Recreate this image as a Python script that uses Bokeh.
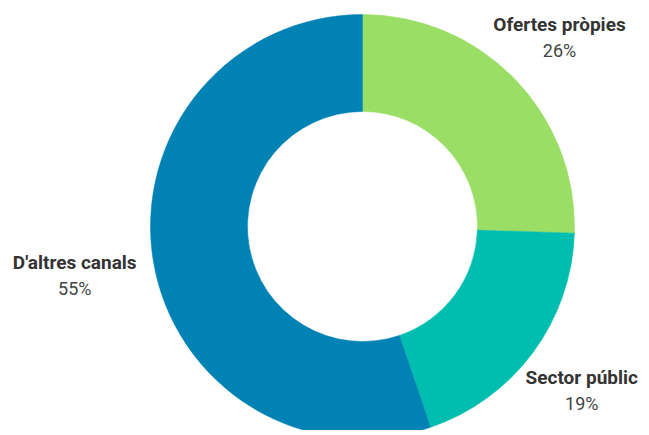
import math
from bokeh.plotting import figure
from bokeh.models import Range1d, ColumnDataSource
from bokeh.core.properties import value
from bokeh.embed import file_html
from bokeh.resources import INLINE

# ---- data ----
categories = ["Ofertes pròpies", "Sector públic", "D'altres canals"]
shares = [25.5, 19.3, 55.2]
pct_labels = ["26%", "19%", "55%"]
colors = ["#9BDE66", "#00BEAF", "#0082B4"]

W, H = 641, 430
CX, CY = 362, H - 226
R_OUT, R_IN = 212, 115

p = figure(width=W, height=H, output_backend="svg", toolbar_location=None,
           x_range=Range1d(0, W), y_range=Range1d(0, H), min_border=0)
p.axis.visible = False
p.grid.visible = False
p.outline_line_color = None
p.background_fill_color = "white"

total = sum(shares)
starts, ends, lx, ly_name, ly_pct = [], [], [], [], []
cum = 0.0
for name, v in zip(categories, shares):
    a0 = cum / total * 2 * math.pi
    a1 = (cum + v) / total * 2 * math.pi
    starts.append(math.pi / 2 - a0)
    ends.append(math.pi / 2 - a1)
    mid = (a0 + a1) / 2
    s, c = math.sin(mid), math.cos(mid)
    w = len(name) * 8.6
    r = 228 + w / 2 * abs(s)
    cx = CX + r * s
    cy = CY + r * c
    lx.append(cx)
    ly_name.append(cy + 11)
    ly_pct.append(cy - 15)
    cum += v

src = ColumnDataSource(dict(start=starts, end=ends, color=colors,
                            lx=lx, lyn=ly_name, lyp=ly_pct,
                            name=categories, pct=pct_labels))

p.annular_wedge(x=CX, y=CY, inner_radius=R_IN, outer_radius=R_OUT,
                start_angle="start", end_angle="end", direction="clock",
                fill_color="color", line_color="color", line_width=0.5, source=src)

p.text(x="lx", y="lyn", text="name", source=src, text_align="center",
       text_baseline="alphabetic", text_font=value("Roboto"), text_font_style="bold",
       text_font_size="19px", text_color="#333333")
p.text(x="lx", y="lyp", text="pct", source=src, text_align="center",
       text_baseline="alphabetic", text_font=value("Roboto"),
       text_font_size="18px", text_color="#444444")

open("out.html", "w").write(file_html(p, INLINE))
